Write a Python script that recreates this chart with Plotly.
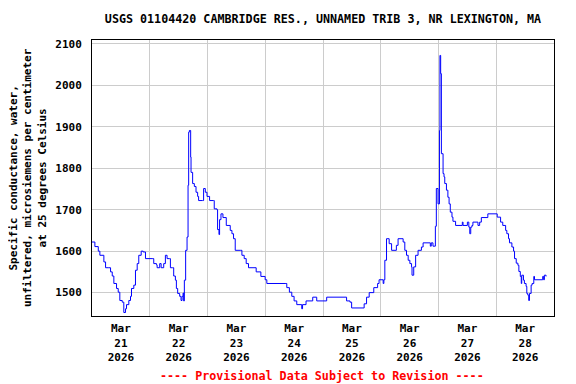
import pandas as pd
import plotly.graph_objects as go

# hours since 2026-03-21 00:00
hours_since_start = [
    0, 1.2, 2.61, 3.27, 4.93, 5.64, 7.0, 7.71, 8.41, 9.08, 10.2, 10.9, 11.56, 12.56,
    13.22, 13.93, 14.34, 15.3, 16.0, 16.41, 17.37, 18.07, 18.78, 19.44, 20.44, 21.26,
    22.22, 25.0, 25.66, 26.78, 27.06, 28.14, 28.73, 29.8, 30.5, 31.2, 32.17, 32.58,
    33.53, 33.95, 34.65, 35.07, 35.6, 36.44, 37.0, 37.43, 37.84, 38.09, 38.38, 38.92,
    39.5, 39.92, 40.17, 40.46, 41.0, 41.16, 41.82, 42.53, 43.23, 43.9, 44.3, 45.97,
    46.38, 47.09, 47.79, 48.87, 50.53, 50.8, 51.94, 52.19, 52.77, 53.02, 53.6, 54.42,
    55.8, 57.45, 58.16, 58.82, 59.52, 61.6, 62.3, 63.25, 64.08, 65.04, 68.23, 70.18,
    71.96, 72.66, 80.25, 80.95, 82.03, 83.03, 83.98, 85.1, 87.17, 87.5, 88.95, 91.73,
    93.1, 93.39, 97.53, 105.8, 107.2, 107.9, 113.1, 114.1, 115.2, 117.1, 118.7, 119.3,
    121.0, 121.3, 121.7, 122.4, 123.5, 124.5, 126.5, 127.2, 129.3, 130.0, 130.7, 131.4,
    132.1, 132.8, 133.0, 133.7, 134.5, 135.5, 136.9, 137.6, 140.6, 141.0, 141.7, 142.7,
    143.1, 143.8, 144.4, 144.6, 144.9, 145.2, 145.9, 146.3, 146.6, 147.3, 147.9, 148.4,
    148.9, 149.6, 150.0, 151.1, 153.9, 154.2, 156.0, 156.6, 157.0, 157.4, 157.9, 158.3,
    160.4, 161.1, 161.8, 164.5, 168.4, 169.8, 170.7, 171.9, 172.4, 173.1, 173.5, 174.5,
    175.2, 175.6, 176.3, 177.0, 177.4, 178.0, 178.4, 178.6, 179.3, 179.7, 180.4, 180.7,
    181.1, 181.5, 181.8, 182.5, 182.9, 183.6, 183.9, 187.3, 187.7, 188.0, 188.7,
]
conductance = [
    1622, 1611, 1600, 1590, 1574, 1560, 1560, 1550, 1540, 1522, 1510, 1501, 1481, 1477,
    1452, 1461, 1471, 1481, 1491, 1510, 1518, 1554, 1570, 1590, 1600, 1598,
    1582, 1582, 1570, 1567, 1560, 1570, 1560, 1570, 1590, 1582, 1582, 1560,
    1560, 1540, 1530, 1510, 1498, 1491, 1481, 1491, 1499, 1480, 1530, 1602,
    1634, 1759, 1887, 1891, 1827, 1790, 1763, 1756, 1742, 1732, 1722, 1722,
    1751, 1742, 1732, 1722, 1722, 1702, 1700, 1652, 1640, 1676, 1690, 1681,
    1662, 1650, 1642, 1630, 1602, 1602, 1590, 1582, 1570, 1560, 1550, 1539,
    1531, 1522, 1522, 1512, 1501, 1491, 1480, 1471, 1461, 1471, 1480, 1489,
    1489, 1480, 1489, 1480, 1477, 1463, 1473, 1489, 1500, 1512, 1522, 1531,
    1522, 1531, 1578, 1630, 1618, 1602, 1614, 1630, 1622, 1602, 1590, 1578,
    1570, 1562, 1542, 1562, 1590, 1602, 1610, 1620, 1612, 1620, 1612, 1660,
    1751, 1714, 1891, 2072, 2028, 1835, 1787, 1779, 1763, 1747, 1730, 1714,
    1694, 1682, 1672, 1662, 1670, 1662, 1670, 1658, 1642, 1658, 1662, 1670,
    1662, 1670, 1681, 1690, 1682, 1670, 1662, 1650, 1642, 1630, 1620, 1610,
    1600, 1582, 1571, 1566, 1551, 1539, 1522, 1542, 1530, 1522, 1515, 1498,
    1494, 1481, 1498, 1518, 1522, 1539, 1531, 1539, 1531, 1542, 1539,
]

start = pd.Timestamp("2026-03-21 00:00")
times = [start + pd.Timedelta(hours=h) for h in hours_since_start]

title_text = "USGS 01104420 CAMBRIDGE RES., UNNAMED TRIB 3, NR LEXINGTON, MA"
y_title = "Specific conductance, water,<br>unfiltered, microsiemens per centimeter<br>at 25 degrees Celsius"
footer = "---- Provisional Data Subject to Revision ----"
y_ticks = [1500, 1600, 1700, 1800, 1900, 2000, 2100]

FONT = "DejaVu Sans Mono"
# the page places the figure 8px in from the top-left corner
W, H = 568, 376

fig = go.Figure()
fig.add_trace(go.Scatter(
    x=times, y=conductance, mode="lines", line=dict(color="#0000ff", width=1, shape="hv"),
    showlegend=False, hoverinfo="x+y",
))

fig.update_layout(
    width=W, height=H,
    margin=dict(l=84, r=22, t=31.5, b=68.3, autoexpand=False),
    paper_bgcolor="white", plot_bgcolor="white",
    font=dict(family=FONT, size=11, color="black", weight="bold"),
    title=dict(text=title_text, x=0.5, xref="paper", y=1 - 11 / H, yref="container",
               xanchor="center", yanchor="middle",
               font=dict(family=FONT, size=11.7, color="black", weight="bold")),
    xaxis=dict(
        type="date",
        range=["2026-03-21 00:00", "2026-03-29 00:00"],
        dtick=86400000, tick0="2026-03-21",
        ticklabelmode="period",
        tickformat="%b<br>%d<br>%Y",
        showgrid=True, gridcolor="#cccccc", gridwidth=1,
        showline=True, linecolor="black", linewidth=1, mirror=True,
        ticks="", zeroline=False, automargin=False,
        tickfont=dict(family=FONT, size=11, weight="bold"),
        ticklabelstandoff=2,
    ),
    yaxis=dict(
        range=[1443.6, 2109.2],
        tickvals=y_ticks,
        showgrid=True, gridcolor="#cccccc", gridwidth=1,
        showline=True, linecolor="black", linewidth=1, mirror=True,
        ticks="", zeroline=False, automargin=False,
        tickfont=dict(family=FONT, size=11, weight="bold"),
        ticklabelstandoff=7,
    ),
    annotations=[
        dict(text=y_title, xref="paper", yref="paper", x=0, y=0.5, xanchor="center",
             yanchor="middle", xshift=-64, textangle=-90, showarrow=False,
             font=dict(family=FONT, size=11, color="black", weight="bold")),
        dict(text=footer, xref="paper", yref="paper", x=0.5, y=0, xanchor="center",
             yanchor="middle", yshift=-59.5, xshift=-1.5, showarrow=False,
             font=dict(family=FONT, size=11.7, color="red", weight="bold")),
    ],
)

fig.write_html("out.html")
